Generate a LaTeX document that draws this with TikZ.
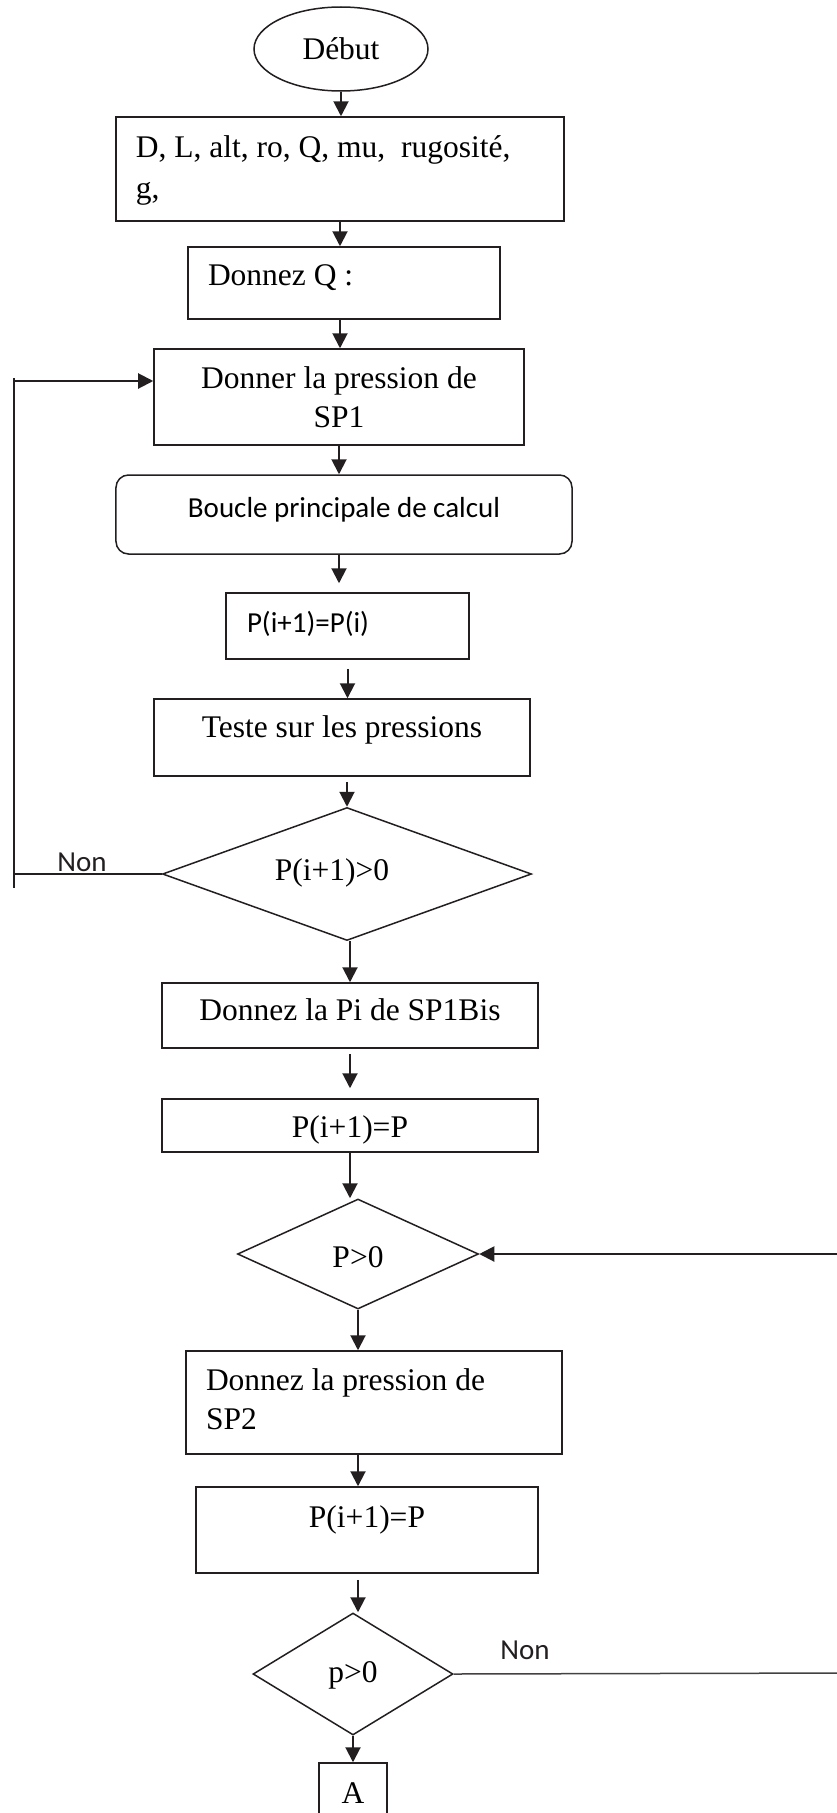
\documentclass[tikz,border=0pt]{standalone}
\usepackage{fontspec}
\setmainfont{Liberation Serif}
\newfontfamily\calib{Carlito}
\usepackage{xcolor}
\usepackage{tikz}
\usetikzlibrary{shapes.geometric,arrows.meta}
\definecolor{trait}{HTML}{231F20}
\newcommand{\levee}[2]{\raisebox{#1}[0pt][0pt]{#2}}
\newcommand{\gauche}[2]{\makebox[#1][l]{\begin{tabular}[t]{@{}l@{}}#2\end{tabular}}}
\newcommand{\centre}[1]{\begin{tabular}[t]{@{}c@{}}#1\end{tabular}}
\tikzset{
  base/.style={draw=trait, line width=0.6pt},
  boite/.style={base, rectangle, inner sep=0pt, font=\fontsize{12.6}{15.8}\selectfont},
  losange/.style={base, diamond, inner sep=0pt, font=\fontsize{12.6}{15.8}\selectfont},
  sans/.style={font=\calib\fontsize{11.6}{14}\selectfont},
  fleche/.style={draw=trait, line width=0.8pt, -{Triangle[length=6pt,width=6pt]}},
  lien/.style={draw=trait, line width=0.8pt},
  nonlab/.style={sans, text=trait, inner sep=0.5pt},
}
\begin{document}
\begin{tikzpicture}[x=0.4pt, y=-0.4pt]
  \useasboundingbox (0,0) rectangle (837,1813);
  \clip (0,0) rectangle (837,1813);

  \node[boite, ellipse, minimum width=69.6pt, minimum height=33.6pt] (debut) at (341,49) {\levee{-4pt}{Début}};
  \node[boite, minimum width=179.2pt, minimum height=41.6pt] (donnees) at (340,169)
    {\levee{4.8pt}{\gauche{163.2pt}{D, L, alt, ro, Q, mu,~ rugosité,\\[0.6pt]g,}}};
  \node[boite, minimum width=124.8pt, minimum height=28.8pt] (donnezQ) at (344,283) {\levee{-0.8pt}{\gauche{108.8pt}{Donnez Q :}}};
  \node[boite, minimum width=148pt, minimum height=38.4pt] (sp1) at (339,397) {\levee{3.6pt}{\centre{Donner la pression de\\SP1}}};
  \node[boite, sans, rounded corners=5pt, minimum width=182.4pt, minimum height=31.6pt] (boucle) at (344,514.5) {\levee{-1pt}{Boucle principale de calcul}};
  \node[boite, sans, minimum width=97.2pt, minimum height=26.4pt] (pii) at (347.5,626) {\levee{-2.4pt}{\gauche{80.4pt}{P(i+1)=P(i)}}};
  \node[boite, minimum width=150.4pt, minimum height=30.8pt] (teste) at (342,737.5) {\levee{0pt}{Teste sur les pressions}};
  \node[losange, minimum width=147.6pt, minimum height=53.2pt] (test1) at (347,874) {\levee{-2.4pt}{\hspace*{-12pt}P(i+1)>0}};
  \node[boite, minimum width=150.4pt, minimum height=26pt] (sp1bis) at (350,1015.5) {\levee{-1.8pt}{Donnez la Pi de SP1Bis}};
  \node[boite, minimum width=150.4pt, minimum height=21.2pt] (pp1) at (350,1125.5) {\levee{-4.6pt}{P(i+1)=P}};
  \node[losange, minimum width=96.4pt, minimum height=44pt] (test2) at (358,1254) {\levee{-5.2pt}{P>0}};
  \node[boite, minimum width=150.4pt, minimum height=41.2pt] (sp2) at (374,1402.5) {\levee{5pt}{\gauche{134.4pt}{Donnez la pression de\\SP2}}};
  \node[boite, minimum width=136.8pt, minimum height=34.4pt] (pp2) at (367,1530) {\levee{1.2pt}{P(i+1)=P}};
  \node[losange, minimum width=80pt, minimum height=48.8pt] (test3) at (353,1674) {\levee{-3.2pt}{p>0}};
  \node[boite, minimum width=27.2pt, minimum height=32pt] (fin) at (353,1803) {\levee{0pt}{A}};

  % enchainement vertical
  \draw[fleche] (debut.south) -- (debut.south |- donnees.north);
  \draw[fleche] (donnees.south) -- (donnees.south |- donnezQ.north);
  \draw[fleche] (donnezQ.south -| donnees) -- (sp1.north -| donnees);
  \draw[fleche] (sp1.south) -- (sp1.south |- boucle.north);
  \draw[fleche, shorten >=3.6pt] (boucle.south -| sp1) -- (pii.north -| sp1);
  \draw[fleche, shorten <=3.6pt] (pii.south) -- (pii.south |- teste.north);
  \draw[fleche, shorten <=2pt] (teste.south -| test1) -- (test1.north);
  \draw[fleche] (test1.south -| sp1bis) -- (sp1bis.north);
  \draw[fleche, shorten <=2pt, shorten >=4pt] (sp1bis.south) -- (pp1.north);
  \draw[fleche] (pp1.south) -- (pp1.south |- test2.north);
  \draw[fleche] (test2.south) -- (test2.south |- sp2.north);
  \draw[fleche] (sp2.south -| test2) -- (pp2.north -| test2);
  \draw[fleche, shorten <=2.4pt] (pp2.south -| test2) -- (test3.north -| test2);
  \draw[fleche] (test3.south) -- (fin.north);

  % boucle de retour a gauche
  \coordinate (loopTop) at (14,381);
  \coordinate (loopBot) at (14,874);
  \draw[lien] (test1.west) -- node[nonlab, above, pos=0.54] {Non} (loopBot);
  \draw[lien] ([yshift=1.2pt]loopTop) -- ([yshift=-5.6pt]loopBot);
  \draw[fleche] (loopTop) -- (loopTop -| sp1.west);

  % liaisons vers la droite
  \coordinate (retour) at (850,1254);
  \coordinate (sortie) at (850,1673);
  \draw[fleche] (retour) -- (test2.east);
  \draw[lien, line width=0.6pt, draw=trait!85] (test3.east) -- node[nonlab, above=5pt, pos=0.18] {Non} (sortie);
\end{tikzpicture}
\end{document}
